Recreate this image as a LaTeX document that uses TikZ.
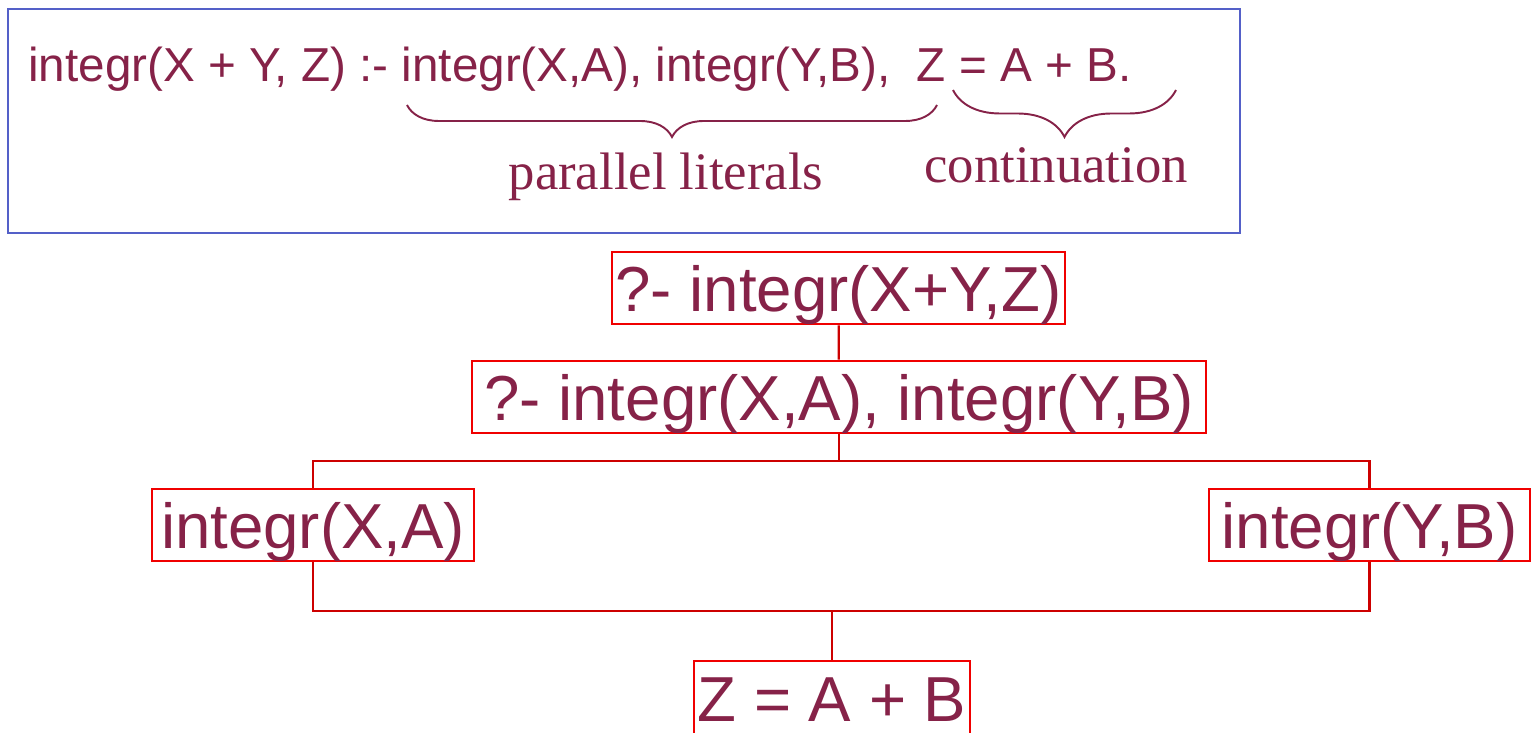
\documentclass[tikz,border=0pt]{standalone}
\usepackage{fontspec}
\setmainfont{Liberation Sans}
\newfontfamily\labelfont{Liberation Serif}
\usetikzlibrary{decorations.pathreplacing}
\definecolor{goaltext}{RGB}{134,34,72}
\definecolor{goalred}{RGB}{240,0,0}
\definecolor{linkred}{RGB}{205,0,0}
\definecolor{clauseblue}{RGB}{84,96,200}
\tikzset{
  goal/.style={draw=goalred, line width=1.5pt, text=goaltext, font=\fontsize{36.2}{40}\selectfont,
    inner xsep=2pt, inner ysep=0pt, text height=33.8pt, text depth=7pt, minimum height=1.44cm},
  link/.style={draw=linkred, line width=1.3pt},
  bracelabel/.style={text=goaltext, font=\labelfont\fontsize{30}{34}\selectfont, anchor=base},
  clausebrace/.style={decorate, decoration={brace, mirror, amplitude=#1}, draw=goaltext, line width=1.1pt}
}
\begin{document}
\begin{tikzpicture}[x=0.02cm, y=-0.02cm]
\useasboundingbox (0,0) rectangle (1536,733);
% the clause
\draw[clauseblue, line width=1.2pt] (8,9) rectangle (1240,233);
\node[anchor=base west, inner sep=0pt, text=goaltext, font=\fontsize{27.1}{30}\selectfont] (clause) at (28,82)
  {integr(X + Y, Z) :- integr(X,A), integr(Y,B),\ \ Z = A + B.};
\draw[clausebrace=0.64cm] (407,105) -- (937,105);
\draw[clausebrace=0.94cm] (953,90) -- (1176,90);
\node[bracelabel] (parlabel) at (666,190) {parallel literals};
\node[bracelabel] (contlabel) at (1056,183) {continuation};
% the goals
\node[goal, minimum width=9.02cm] (top) at (838.5,288) {?- integr(X+Y,Z)};
\node[goal, minimum width=14.68cm] (both) at (839,397) {?- integr(X,A), integr(Y,B)};
\node[goal, minimum width=6.44cm] (left) at (313,525) {integr(X,A)};
\node[goal, minimum width=6.42cm] (right) at (1369.5,525) {integr(Y,B)};
\node[goal, minimum width=5.44cm, minimum height=1.48cm] (sum) at (832,698) {Z = A + B};
\coordinate (split) at (839,461);
\coordinate (join) at (832,611);
\draw[link] (top) -- (both);
\draw[link] (both) -- (split);
\draw[link] (left.north) |- (split) -| (right.north);
\draw[link] (left.south) |- (join) -| (right.south);
\draw[link] (join) -- (sum);
\end{tikzpicture}
\end{document}
